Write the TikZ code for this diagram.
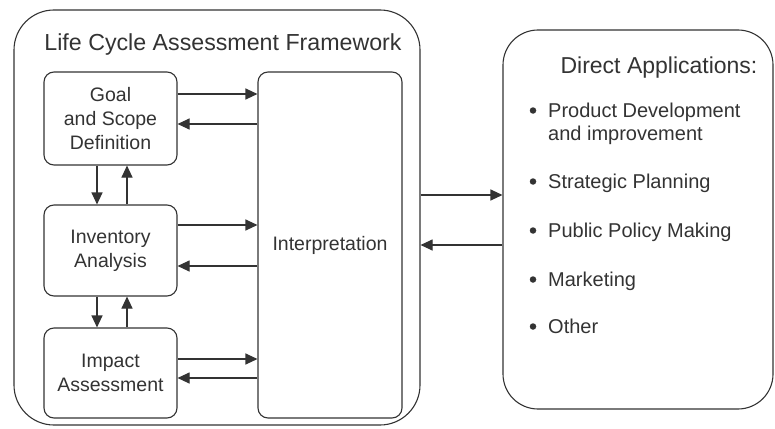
\documentclass[tikz,border=0pt]{standalone}
\usepackage{fontspec}
\setmainfont{Liberation Sans}
\usetikzlibrary{arrows.meta}
\definecolor{ink}{HTML}{333333}
\tikzset{
  box/.style={draw=ink, line width=1.1pt, rounded corners=10pt, inner sep=0pt,
    align=center, text=ink, font=\fontsize{19.5}{24}\selectfont},
  arr/.style={draw=ink, line width=1.1pt, -{Triangle[length=12pt,width=11pt]}},
  txt/.style={text=ink, inner sep=0pt, font=\fontsize{20}{24}\selectfont},
  dot/.style={circle, fill=ink, inner sep=0pt, minimum size=6.5pt}
}
\begin{document}
\begin{tikzpicture}[x=1pt,y=-1pt]
\useasboundingbox (0,0) rectangle (775,428);
% outer frames
\node[box, rounded corners=40pt, minimum width=406pt, minimum height=415pt] (frame) at (217,217.5) {};
\node[box, rounded corners=35pt, minimum width=270pt, minimum height=379pt] (apps) at (638,219.5) {};
\node[txt, anchor=base, font=\fontsize{23.2}{26}\selectfont] (title) at (223,50) {Life Cycle Assessment Framework};
% inner boxes
\node[box, minimum width=133pt, minimum height=93pt] (goal) at (110.5,118.5) {Goal\\and Scope\\Definition};
\node[box, minimum width=133pt, minimum height=91pt] (inv) at (110.5,250.5) {Inventory\\Analysis};
\node[box, minimum width=133pt, minimum height=90pt] (imp) at (110.5,373) {Impact\\Assessment};
\node[box, minimum width=144pt, minimum height=346pt] (interp) at (330,245) {Interpretation};
% horizontal arrows
\draw[arr] (goal.east |- 0,94) -- (interp.west |- 0,94);
\draw[arr] (interp.west |- 0,124) -- (goal.east |- 0,124);
\draw[arr] (inv.east |- 0,225) -- (interp.west |- 0,225);
\draw[arr] (interp.west |- 0,266) -- (inv.east |- 0,266);
\draw[arr] (imp.east |- 0,359) -- (interp.west |- 0,359);
\draw[arr] (interp.west |- 0,378) -- (imp.east |- 0,378);
% vertical arrows
\draw[arr] (goal.south -| 97,0) -- (inv.north -| 97,0);
\draw[arr] (inv.north -| 127,0) -- (goal.south -| 127,0);
\draw[arr] (inv.south -| 97,0) -- (imp.north -| 97,0);
\draw[arr] (imp.north -| 127,0) -- (inv.south -| 127,0);
% between frames
\draw[arr] (frame.east |- 0,195) -- (apps.west |- 0,195);
\draw[arr] (apps.west |- 0,245) -- (frame.east |- 0,245);
% applications text
\node[txt, anchor=base, font=\fontsize{23}{26}\selectfont] (head) at (659,74) {Direct Applications:};
\node[txt, anchor=base west] (i1) at (548,117) {Product Development};
\node[txt, anchor=base west] (i1b) at (548,140) {and improvement};
\node[txt, anchor=base west] (i2) at (548,188) {Strategic Planning};
\node[txt, anchor=base west] (i3) at (548,237) {Public Policy Making};
\node[txt, anchor=base west] (i4) at (548,286) {Marketing};
\node[txt, anchor=base west] (i5) at (548,333) {Other};
\node[dot] (b1) at (533,110.5) {};
\node[dot] (b2) at (533,181.5) {};
\node[dot] (b3) at (533,230.5) {};
\node[dot] (b4) at (533,279.5) {};
\node[dot] (b5) at (533,326.5) {};
\end{tikzpicture}
\end{document}
